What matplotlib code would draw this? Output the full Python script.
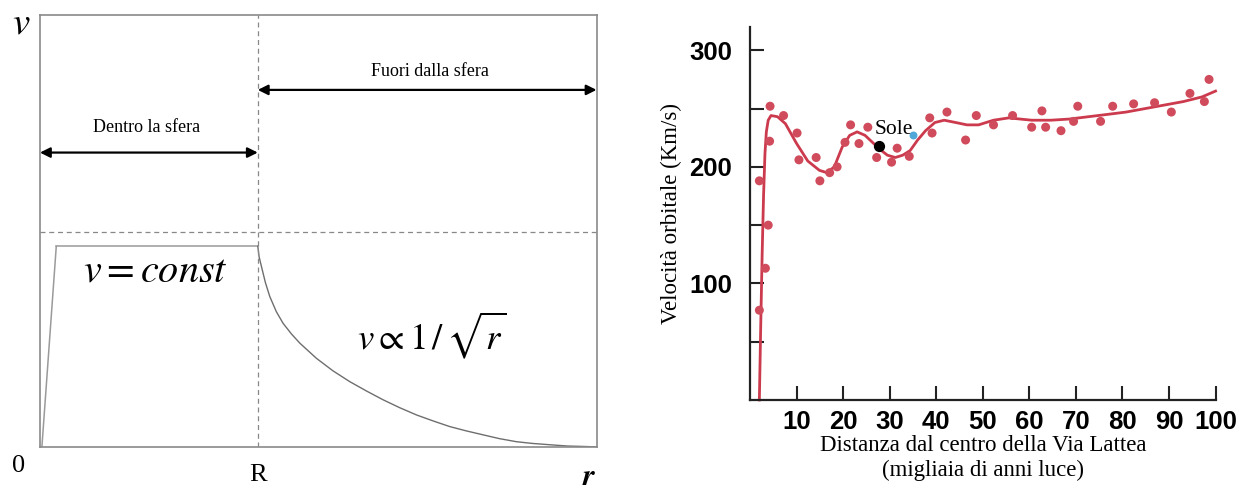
import numpy as np
import matplotlib
matplotlib.use("Agg")
import matplotlib.pyplot as plt

plt.rcParams['mathtext.fontset'] = 'stix'
plt.rcParams['font.family'] = ['Liberation Serif', 'DejaVu Serif']

# ---- left: schematic rotation curve of a uniform sphere (R = 1)
R = 1.0
v_const = 0.464
ramp_r = [0.009, 0.075]
ramp_v = [0.0, v_const]
decay_r = [1.0, 1.006, 1.017, 1.035, 1.055, 1.085, 1.116, 1.155, 1.193, 1.269,
           1.345, 1.422, 1.5, 1.575, 1.65, 1.728, 1.805, 1.881, 1.957, 2.033,
           2.11, 2.187, 2.26, 2.339, 2.42, 2.492, 2.555]
decay_v = [v_const, 0.44, 0.417, 0.38, 0.348, 0.313, 0.286, 0.261, 0.240, 0.205,
           0.176, 0.151, 0.129, 0.109, 0.091, 0.074, 0.06, 0.047, 0.037, 0.028,
           0.019, 0.012, 0.008, 0.005, 0.002, 0.001, 0.0]

# ---- right: Milky Way rotation curve (thousands of light years, km/s)
obs_x = [2.0, 2.0, 3.3, 3.9, 4.2, 4.3, 7.2, 10.1, 10.5, 14.2, 15.0, 17.1, 18.7,
         20.4, 21.6, 23.4, 25.3, 27.2, 30.4, 31.6, 34.2, 38.6, 39.1, 42.3, 46.3,
         48.6, 52.3, 56.4, 60.5, 62.7, 63.5, 66.8, 69.5, 70.4, 75.3, 77.9, 82.4,
         86.9, 90.5, 94.5, 97.6, 98.6]
obs_v = [188, 77, 113, 150, 222, 252, 244, 229, 206, 208, 188, 195, 200,
         221, 236, 220, 234, 208, 204, 216, 209, 242, 229, 247, 223,
         244, 236, 244, 234, 248, 234, 231, 239, 252, 239, 252, 254,
         255, 247, 263, 256, 275]
fit_x = [2.0, 2.3, 2.6, 2.9, 3.2, 3.5, 3.9, 4.5, 5.9, 7.6, 10.0, 12.4, 14.9, 16.5,
         18.1, 19.8, 21.4, 23.0, 24.7, 26.3, 27.9, 29.5, 31.2, 32.8, 34.4,
         36.0, 37.7, 39.7, 41.7, 44.2, 46.6, 49.1, 52.3, 55.6, 58.0, 60.5,
         64.6, 68.6, 72.7, 76.8, 80.8, 84.9, 89.0, 93.1, 97.1, 100.0]
fit_v = [0, 65, 125, 175, 211, 230, 240, 244, 243, 237, 220, 205, 197, 195,
         200, 217, 227, 230, 227, 221, 215, 210, 208, 210, 214,
         223, 231, 238, 240, 238, 236, 236, 240, 242, 241, 240,
         240, 241, 243, 245, 247, 250, 253, 256, 260, 265]
sun_x, sun_v = 27.6, 218
blue_x, blue_v = 35.1, 227

fig = plt.figure(figsize=(12.48, 4.9), dpi=100)

# ================= left panel =================
ax1 = fig.add_axes([0.032, 0.088, 0.446, 0.882])
ax1.set_xlim(0, 2.555)
ax1.set_ylim(0, 1)
for s in ax1.spines.values():
    s.set_color('#8a8a8a')
    s.set_linewidth(1.2)
ax1.set_xticks([])
ax1.set_yticks([])

ax1.plot(ramp_r, ramp_v, color='#9a9a9a', lw=1.1)
ax1.plot([ramp_r[1], R], [v_const, v_const], color='#9a9a9a', lw=1.1)
ax1.plot(decay_r, decay_v, color='#6e6e6e', lw=1.0)
ax1.axvline(R, color='#888888', lw=0.9, ls=(0, (4, 3)))
ax1.axhline(0.498, color='#888888', lw=0.9, ls=(0, (4, 3)))

ax1.annotate('', xy=(0, 0.681), xytext=(R, 0.681),
             arrowprops=dict(arrowstyle='<|-|>', color='black', lw=1.6,
                             mutation_scale=15, shrinkA=0, shrinkB=0))
ax1.text(0.49, 0.738, 'Dentro la sfera', ha='center', va='center', fontsize=13)
ax1.annotate('', xy=(R, 0.826), xytext=(2.555, 0.826),
             arrowprops=dict(arrowstyle='<|-|>', color='black', lw=1.6,
                             mutation_scale=15, shrinkA=0, shrinkB=0))
ax1.text(1.79, 0.868, 'Fuori dalla sfera', ha='center', va='center', fontsize=13)

ax1.text(0.528, 0.405, r'$v = const$', ha='center', va='center', fontsize=29)
ax1.text(1.80, 0.257, r'$v \propto 1\,/\,\sqrt{r}$', ha='center', va='center',
         fontsize=26.5)

fig.text(0.017, 0.952, r'$v$', ha='center', va='center', fontsize=28)
fig.text(0.015, 0.05, '0', ha='center', va='center', fontsize=19)
fig.text(0.207, 0.03, 'R', ha='center', va='center', fontsize=19)
fig.text(0.472, 0.025, r'$\boldsymbol{r}$', ha='center', va='center', fontsize=22)

# ================= right panel =================
red_dot = '#d04b5c'
red_line = '#cc3a4d'
ax2 = fig.add_axes([0.601, 0.1837, 0.373, 0.7613])
ax2.set_xlim(0, 100)
ax2.set_ylim(0, 320)
ax2.spines['top'].set_visible(False)
ax2.spines['right'].set_visible(False)
for s in ('left', 'bottom'):
    ax2.spines[s].set_color('#222222')
    ax2.spines[s].set_linewidth(1.6)

ax2.plot(fit_x, fit_v, color=red_line, lw=2.0, zorder=2, clip_on=False)
ax2.scatter(obs_x, obs_v, s=42, color=red_dot, edgecolors='none', zorder=3,
            clip_on=False)
ax2.scatter([sun_x], [sun_v], s=50, color='black', zorder=4)
ax2.scatter([blue_x], [blue_v], s=22, color='#4fa8d8', zorder=4)
ax2.text(sun_x - 0.9, sun_v + 6, 'Sole', ha='left', va='bottom', fontsize=15.5)

ax2.set_xticks(np.arange(10, 101, 10))
ax2.set_yticks([50, 100, 150, 200, 250, 300])
ax2.set_yticklabels(['', '100', '', '200', '', '300'])
ax2.tick_params(direction='in', length=10, width=1.5, color='#222222')
ax2.tick_params(axis='x', pad=7)
ax2.tick_params(axis='y', pad=13)
for lab in ax2.get_xticklabels() + ax2.get_yticklabels():
    lab.set_fontfamily('Liberation Sans')
    lab.set_fontweight('bold')
    lab.set_fontsize(18.5)

ax2.set_ylabel('Velocità orbitale (Km/s)', fontsize=16.5, labelpad=5)
ax2.set_xlabel('Distanza dal centro della Via Lattea\n(migliaia di anni luce)',
               fontsize=16.5, labelpad=1, linespacing=1.2)

fig.savefig('out.png', dpi=100)
